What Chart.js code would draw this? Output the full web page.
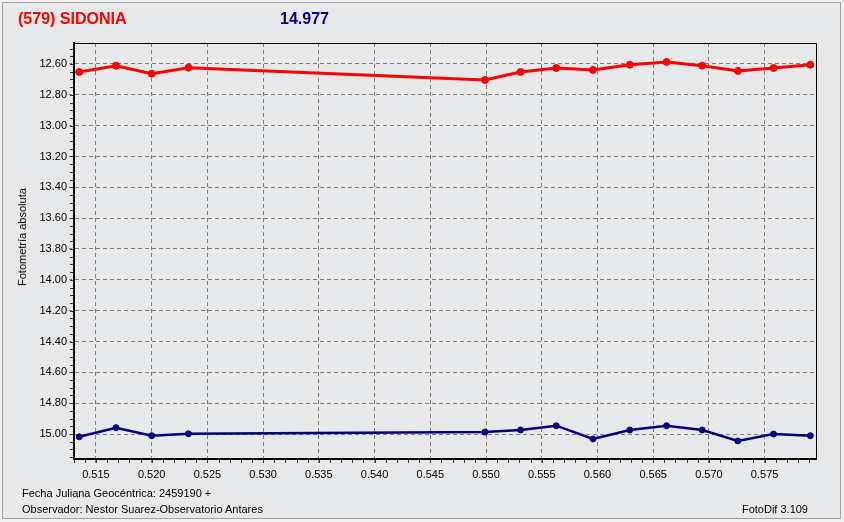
<!DOCTYPE html>
<html>
<head>
<meta charset="utf-8">
<script src="https://cdn.jsdelivr.net/npm/chart.js@4.4.1/dist/chart.umd.min.js"></script>
<style>
  html, body { margin: 0; padding: 0; background: #f0f0f0; }
  #wrap { position: relative; width: 844px; height: 522px; overflow: hidden; }
  #frame { position: absolute; left: 2px; top: 2px; width: 837px; height: 515px; border: 1px solid #a0a0a0; background: #e7e8ea; }
  canvas { position: absolute; left: 0; top: 0; }
  .txt { position: absolute; font-family: "Liberation Sans", Arial, sans-serif; white-space: nowrap; }
  #title { left: 18px; top: 10px; font-size: 16px; font-weight: bold; color: #ff0000; }
  #mag { left: 280px; top: 10px; font-size: 16px; font-weight: bold; color: #000080; }
  #ylab { left: 22px; top: 237px; font-size: 11px; color: #000; transform: translate(-50%, -50%) rotate(-90deg); }
  #foot1 { left: 22px; top: 487px; font-size: 11px; color: #000; }
  #foot2 { left: 22px; top: 503px; font-size: 11px; color: #000; }
  #foot3 { right: 36px; top: 503px; font-size: 11px; color: #000; }
</style>
</head>
<body>
<div id="wrap">
  <div id="frame"></div>
  <canvas id="photChart" width="844" height="522"></canvas>
  <div class="txt" id="title">(579) SIDONIA</div>
  <div class="txt" id="mag">14.977</div>
  <div class="txt" id="ylab">Fotometría absoluta</div>
  <div class="txt" id="foot1">Fecha Juliana Geocéntrica: 2459190 +</div>
  <div class="txt" id="foot2">Observador: Nestor Suarez-Observatorio Antares</div>
  <div class="txt" id="foot3">FotoDif 3.109</div>
</div>
<script>
// fraction of day after JD 2459190
const jdOffsets = [0.5135, 0.5168, 0.5200, 0.5233, 0.5499, 0.5531, 0.5563, 0.5596, 0.5629, 0.5662, 0.5694, 0.5726, 0.5758, 0.5791];
const targetMag = [12.652, 12.611, 12.663, 12.624, 12.704, 12.652, 12.626, 12.639, 12.605, 12.587, 12.611, 12.645, 12.626, 12.605];
const compMag = [15.018, 14.959, 15.011, 14.998, 14.987, 14.974, 14.946, 15.032, 14.974, 14.946, 14.974, 15.045, 15.000, 15.011];

const xTicks = [0.515, 0.520, 0.525, 0.530, 0.535, 0.540, 0.545, 0.550, 0.555, 0.560, 0.565, 0.570, 0.575];
const yTicks = [12.60, 12.80, 13.00, 13.20, 13.40, 13.60, 13.80, 14.00, 14.20, 14.40, 14.60, 14.80, 15.00];

Chart.defaults.font.family = '"Liberation Sans", Arial, sans-serif';
Chart.defaults.font.size = 11;
Chart.defaults.color = '#000';

// frame of the plot + small minor ticks on both axes
const framePlugin = {
  id: 'framePlugin',
  afterDraw(chart) {
    const ctx = chart.ctx;
    const a = chart.chartArea;
    const xs = chart.scales.x, ys = chart.scales.y;
    ctx.save();
    ctx.strokeStyle = '#000';
    ctx.lineWidth = 1;
    ctx.beginPath();
    ctx.moveTo(a.left, a.top + 0.5);
    ctx.lineTo(a.right + 0.5, a.top + 0.5);
    ctx.lineTo(a.right + 0.5, a.bottom);
    ctx.stroke();

    ctx.strokeStyle = '#333';
    ctx.beginPath();
    for (let v = 12.5; v <= 15.16; v += 0.05) {
      const y = Math.round(ys.getPixelForValue(v)) + 0.5;
      if (y < a.top || y > a.bottom) continue;
      ctx.moveTo(a.left - 4, y);
      ctx.lineTo(a.left - 1, y);
    }
    for (let v = 0.513; v <= 0.5797; v += 0.001) {
      const x = Math.round(xs.getPixelForValue(v)) + 0.5;
      if (x < a.left || x > a.right) continue;
      ctx.moveTo(x, a.bottom + 1);
      ctx.lineTo(x, a.bottom + 4);
    }
    ctx.stroke();
    ctx.restore();
  }
};

const ctx = document.getElementById('photChart').getContext('2d');
new Chart(ctx, {
  type: 'line',
  data: {
    datasets: [
      {
        label: '(579) SIDONIA',
        data: jdOffsets.map((x, i) => ({ x: x, y: targetMag[i] })),
        borderColor: '#ff0000',
        backgroundColor: '#ff0000',
        borderWidth: 3,
        pointRadius: 3.5,
        pointBorderWidth: 1,
        pointStyle: 'circle',
        tension: 0
      },
      {
        label: 'Comparación',
        data: jdOffsets.map((x, i) => ({ x: x, y: compMag[i] })),
        borderColor: '#000080',
        backgroundColor: '#000080',
        borderWidth: 2.5,
        pointRadius: 3,
        pointBorderWidth: 1,
        pointStyle: 'circle',
        tension: 0
      }
    ]
  },
  options: {
    responsive: false,
    animation: false,
    layout: { padding: { top: 43, right: 28, left: 0, bottom: 0 } },
    plugins: {
      legend: { display: false },
      title: { display: false },
      tooltip: { enabled: false }
    },
    scales: {
      x: {
        type: 'linear',
        min: 0.51303,
        max: 0.57961,
        afterBuildTicks: scale => { scale.ticks = xTicks.map(v => ({ value: v })); },
        afterFit: scale => { scale.height = 63; },
        ticks: {
          padding: 4,
          maxRotation: 0,
          autoSkip: false,
          callback: v => v.toFixed(3)
        },
        grid: {
          color: '#808080',
          lineWidth: 1,
          tickLength: 5,
          tickBorderDash: [3, 3],
          tickColor: '#808080'
        },
        border: { display: true, color: '#000', width: 2, dash: [4, 3] }
      },
      y: {
        type: 'linear',
        reverse: true,
        min: 12.464,
        max: 15.162,
        afterBuildTicks: scale => { scale.ticks = yTicks.map(v => ({ value: v })); },
        afterFit: scale => { scale.width = 74; },
        ticks: {
          padding: 2,
          autoSkip: false,
          callback: v => v.toFixed(2)
        },
        grid: {
          color: '#808080',
          lineWidth: 1,
          tickLength: 5,
          tickBorderDash: [3, 3],
          tickColor: '#808080'
        },
        border: { display: true, color: '#000', width: 2, dash: [4, 3] }
      }
    }
  },
  plugins: [framePlugin]
});
</script>
</body>
</html>
